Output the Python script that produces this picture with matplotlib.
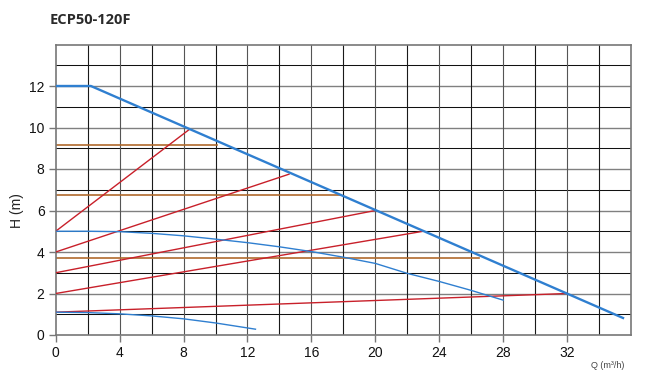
import matplotlib
matplotlib.use("Agg")
import matplotlib.pyplot as plt
import numpy as np

title = "ECP50-120F"
x_ticks = [0, 4, 8, 12, 16, 20, 24, 28, 32]
y_ticks = [0, 2, 4, 6, 8, 10, 12]

# Max pump curve (blue, thick)
max_q = [0, 2.2, 35.5]
max_h = [12, 12, 0.82]
# Mid pump curve (blue)
mid_q = [0, 2, 4, 6, 8, 10, 12, 14, 16, 18, 20, 22, 24, 26, 28]
mid_h = [5.0, 5.0, 4.98, 4.9, 4.78, 4.62, 4.45, 4.25, 4.02, 3.75, 3.45, 2.97, 2.58, 2.15, 1.68]
# Min pump curve (blue)
min_q = [0, 2, 4, 6, 8, 10, 12.5]
min_h = [1.1, 1.08, 1.02, 0.92, 0.78, 0.58, 0.28]
# System curves (red): start and end points
sys_q = [[0, 8.35], [0, 14.6], [0, 20], [0, 23], [0, 32]]
sys_h = [[5, 9.9], [4, 7.75], [3, 6.0], [2, 5.0], [1.1, 2.0]]
# Horizontal levels (brown)
lvl_h = [9.15, 6.75, 3.72]
lvl_qend = [10.1, 17.8, 26.5]

fig = plt.figure(figsize=(6.5, 3.79), dpi=100)
ax = fig.add_axes([0.0857, (379 - 335) / 379, 0.9708 - 0.0857, (335 - 44.5) / 379])
ax.set_xlim(0, 36)
ax.set_ylim(0, 14)

# grid
for yv in range(1, 14):
    col = "#808080" if yv % 2 == 0 else "#111111"
    lw = 1.0 if yv % 2 == 0 else 0.75
    ax.axhline(yv, color=col, lw=lw, zorder=1)
for xv in range(2, 36, 2):
    col = "#555555" if xv % 4 == 0 else "#1a1a1a"
    ax.axvline(xv, color=col, lw=0.8, zorder=1)

for h, qe in zip(lvl_h, lvl_qend):
    ax.plot([0, qe], [h, h], color="#b06a2c", lw=1.2, zorder=2)
for q, h in zip(sys_q, sys_h):
    ax.plot(q, h, color="#c8202a", lw=1.0, zorder=3)
ax.plot(mid_q, mid_h, color="#2f7fd0", lw=1.0, zorder=4)
ax.plot(min_q, min_h, color="#2f7fd0", lw=1.0, zorder=4)
ax.plot(max_q, max_h, color="#2f7fd0", lw=1.7, zorder=5)

for s in ax.spines.values():
    s.set_color("#777777")
    s.set_linewidth(1.2)

ax.set_xticks(x_ticks)
ax.set_yticks(y_ticks)
ax.tick_params(axis="both", length=5, width=1, color="#777777",
               labelsize=10, labelcolor="#111111", pad=3)
for lab in ax.get_xticklabels() + ax.get_yticklabels():
    lab.set_family("Liberation Sans")

ax.set_ylabel("H (m)", fontsize=10, family="Liberation Sans", color="#222222")
ax.yaxis.set_label_coords(-0.055, 0.43)

fig.text(608 / 650, 1 - 366 / 379, "Q (m³/h)", fontsize=6.5, color="#444444",
         family="Liberation Sans", ha="center", va="center")
fig.text(50 / 650, 1 - 20 / 379, title, fontsize=10.5, fontweight="bold",
         color="#2a2a2a", family="Open Sans", ha="left", va="center")

fig.savefig("out.png", dpi=100)
